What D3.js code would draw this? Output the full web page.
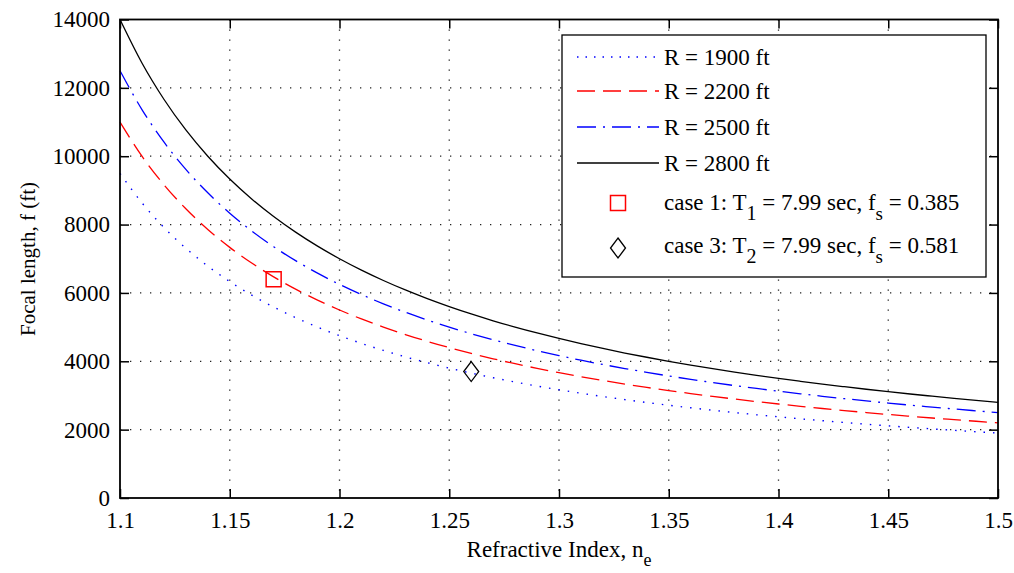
<!DOCTYPE html>
<html><head><meta charset="utf-8">
<script src="https://cdn.jsdelivr.net/npm/d3@7"></script>
<style>body{margin:0;background:#fff}svg text{font-family:"Liberation Serif","Times New Roman",serif;fill:#000}</style>
</head><body><svg id="c" width="1014" height="573"></svg>
<script>
const nValues = [1.10,1.11,1.12,1.13,1.14,1.15,1.16,1.17,1.18,1.19,1.20,1.21,1.22,1.23,1.24,1.25,1.26,1.27,1.28,1.29,1.30,1.31,1.32,1.33,1.34,1.35,1.36,1.37,1.38,1.39,1.40,1.41,1.42,1.43,1.44,1.45,1.46,1.47,1.48,1.49,1.50];
const f1900 = [9500,8636,7917,7308,6786,6333,5938,5588,5278,5000,4750,4524,4318,4130,3958,3800,3654,3519,3393,3276,3167,3065,2969,2879,2794,2714,2639,2568,2500,2436,2375,2317,2262,2209,2159,2111,2065,2021,1979,1939,1900];
const f2200 = [11000,10000,9167,8462,7857,7333,6875,6471,6111,5789,5500,5238,5000,4783,4583,4400,4231,4074,3929,3793,3667,3548,3438,3333,3235,3143,3056,2973,2895,2821,2750,2683,2619,2558,2500,2444,2391,2340,2292,2245,2200];
const f2500 = [12500,11364,10417,9615,8929,8333,7813,7353,6944,6579,6250,5952,5682,5435,5208,5000,4808,4630,4464,4310,4167,4032,3906,3788,3676,3571,3472,3378,3289,3205,3125,3049,2976,2907,2841,2778,2717,2660,2604,2551,2500];
const f2800 = [14000,12727,11667,10769,10000,9333,8750,8235,7778,7368,7000,6667,6364,6087,5833,5600,5385,5185,5000,4828,4667,4516,4375,4242,4118,4000,3889,3784,3684,3590,3500,3415,3333,3256,3182,3111,3043,2979,2917,2857,2800];
const seriesNames = ["R = 1900 ft","R = 2200 ft","R = 2500 ft","R = 2800 ft"];
const case1 = [1.17, 6400];
const case3 = [1.26, 3700];
const xTicks = [1.1,1.15,1.2,1.25,1.3,1.35,1.4,1.45,1.5];
const yTicks = [0,2000,4000,6000,8000,10000,12000,14000];

const svg = d3.select("#c");
const L=120,R=998,T=19.5,B=498;
const x = d3.scaleLinear().domain([1.1,1.5]).range([L,R]);
const y = d3.scaleLinear().domain([0,14000]).range([B,T]);
const FS = 23;

// grid
const g = svg.append("g");
g.selectAll(".gx").data(xTicks.slice(1,-1)).join("line")
 .attr("x1",d=>x(d)).attr("x2",d=>x(d)).attr("y1",T).attr("y2",B)
 .attr("stroke","#222").attr("stroke-width",1.3).attr("stroke-dasharray","1.3,8.7");
g.selectAll(".gy").data(yTicks.slice(1,-1)).join("line")
 .attr("y1",d=>y(d)).attr("y2",d=>y(d)).attr("x1",L).attr("x2",R)
 .attr("stroke","#222").attr("stroke-width",1.3).attr("stroke-dasharray","1.3,8.7");

// axes
const ax = d3.axisBottom(x).tickValues(xTicks).tickFormat(d3.format("")).tickSizeInner(-9).tickSizeOuter(0).tickPadding(14);
const ay = d3.axisLeft(y).tickValues(yTicks).tickFormat(d3.format("d")).tickSizeInner(-9).tickSizeOuter(0).tickPadding(10);
const axT = d3.axisTop(x).tickValues(xTicks).tickFormat("").tickSizeInner(-9).tickSizeOuter(0);
const ayR = d3.axisRight(y).tickValues(yTicks).tickFormat("").tickSizeInner(-9).tickSizeOuter(0);
function styleAxis(sel){
  sel.select(".domain").remove();
  sel.selectAll("line").attr("stroke","#000").attr("stroke-width",1.5);
  sel.selectAll("text").attr("font-size",FS).attr("font-family","Liberation Serif");
}
svg.append("g").attr("transform",`translate(0,${B})`).call(ax).call(styleAxis);
svg.append("g").attr("transform",`translate(${L},0)`).call(ay).call(styleAxis);
svg.append("g").attr("transform",`translate(0,${T})`).call(axT).call(styleAxis);
svg.append("g").attr("transform",`translate(${R},0)`).call(ayR).call(styleAxis);

// lines
const styles = [
 {data:f1900,color:"#0000ff",dash:"1.5,8",w:1.4},
 {data:f2200,color:"#ff0000",dash:"18,8",w:1.3},
 {data:f2500,color:"#0000ff",dash:"19,7,2,7",w:1.3},
 {data:f2800,color:"#000000",dash:null,w:1.3}
];
const line = d3.line().x((d,i)=>x(nValues[i])).y(d=>y(d)).curve(d3.curveMonotoneX);
styles.forEach(s=>{
  svg.append("path").datum(s.data).attr("d",line).attr("fill","none")
   .attr("stroke",s.color).attr("stroke-width",s.w).attr("stroke-dasharray",s.dash);
});

// box
svg.append("rect").attr("x",L).attr("y",T).attr("width",R-L).attr("height",B-T)
 .attr("fill","none").attr("stroke","#000").attr("stroke-width",1.8);

// markers
function square(sel,cx,cy,s){ sel.append("rect").attr("x",cx-s/2).attr("y",cy-s/2).attr("width",s).attr("height",s)
  .attr("fill","none").attr("stroke","#ff0000").attr("stroke-width",1.5); }
function diamond(sel,cx,cy,w,h){ sel.append("path").attr("d",`M${cx},${cy-h/2}L${cx+w/2},${cy}L${cx},${cy+h/2}L${cx-w/2},${cy}Z`)
  .attr("fill","none").attr("stroke","#000").attr("stroke-width",1.3); }
square(svg,x(case1[0]),y(case1[1]),15);
diamond(svg,x(case3[0]),y(case3[1]),15,20);

// legend
const lg = svg.append("g");
lg.append("rect").attr("x",562).attr("y",35).attr("width",424).attr("height",242)
 .attr("fill","#fff").attr("stroke","#000").attr("stroke-width",1.3);
const rowsY = [57,91,127,163];
styles.forEach((s,i)=>{
  lg.append("line").attr("x1",577).attr("x2",659).attr("y1",rowsY[i]).attr("y2",rowsY[i])
   .attr("stroke",s.color).attr("stroke-width",s.w).attr("stroke-dasharray",i===0?"1.5,7":s.dash);
  lg.append("text").attr("x",664).attr("y",rowsY[i]).attr("dy","0.35em").attr("font-size",FS).text(seriesNames[i]);
});
square(lg,618,203,15);
diamond(lg,618,248,15,20);
function caseText(yy,num,sub,T,fs){
  const t = lg.append("text").attr("x",664).attr("y",yy).attr("dy","0.35em").attr("font-size",FS);
  t.append("tspan").text(`case ${num}: T`);
  t.append("tspan").attr("dy",10).attr("font-size",FS-3).text(sub);
  t.append("tspan").attr("dy",-10).text(` = ${T} sec, f`);
  t.append("tspan").attr("dy",10).attr("font-size",FS-4).text("s");
  t.append("tspan").attr("dy",-10).text(` = ${fs}`);
}
caseText(202,1,"1","7.99","0.385");
caseText(245,3,"2","7.99","0.581");

// axis labels
const xl = svg.append("text").attr("x",559).attr("y",557).attr("text-anchor","middle").attr("font-size",FS);
xl.append("tspan").text("Refractive Index, n");
xl.append("tspan").attr("dy",9).attr("font-size",FS-5).text("e");
svg.append("text").attr("transform","translate(35,259) rotate(-90)").attr("text-anchor","middle")
 .attr("font-size",21).text("Focal length, f (ft)");
</script></body></html>
